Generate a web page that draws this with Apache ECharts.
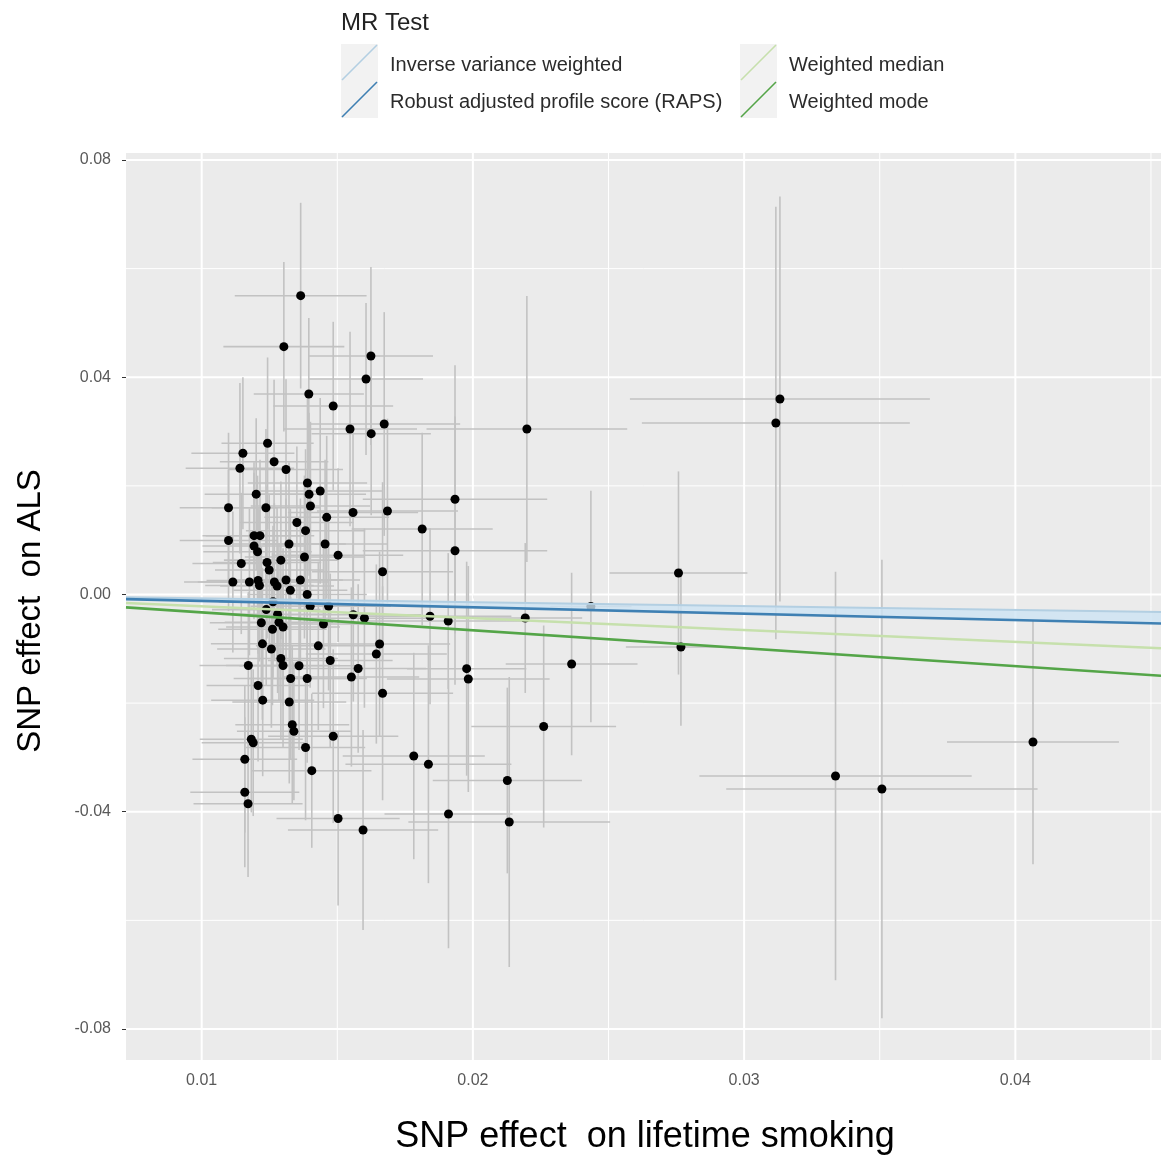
<!DOCTYPE html>
<html><head><meta charset="utf-8">
<script src="https://cdn.jsdelivr.net/npm/echarts@6/dist/echarts.min.js"></script>
<style>html,body{margin:0;padding:0;background:#fff}#c{width:1161px;height:1160px}</style>
</head><body><div id="c"></div>
<script>
const snpX = [0.01365,0.01303,0.01624,0.01606,0.01395,0.01485,0.01547,0.01673,0.01625,0.02199,
 0.03132,0.03117,0.01243,0.01152,0.01267,0.01141,0.01311,0.01390,0.01396,0.01437,
 0.01201,0.01099,0.01237,0.01401,0.01558,0.01685,0.01934,0.01461,0.01813,0.01351,
 0.01383,0.01193,0.01215,0.01099,0.01322,0.01455,0.01193,0.01206,0.01934,0.01503,
 0.01379,0.01146,0.01292,0.01241,0.01249,0.01667,0.01115,0.01176,0.01208,0.01213,
 0.01268,0.01278,0.01311,0.01327,0.01364,0.01389,0.01263,0.01238,0.01400,0.01468,
 0.01280,0.01559,0.01600,0.01842,0.01909,0.02193,0.02435,0.01220,0.01285,0.01300,
 0.01261,0.01449,0.01224,0.01257,0.01430,0.01656,0.01644,0.02758,0.02767,0.01292,
 0.01300,0.01359,0.01172,0.01474,0.01577,0.01552,0.01328,0.01389,0.01208,0.01667,
 0.01225,0.01323,0.01977,0.01983,0.02364,0.01334,0.01340,0.01183,0.01190,0.01485,
 0.01383,0.02261,0.01159,0.01406,0.01782,0.01836,0.02127,0.01159,0.01171,0.01503,
 0.01595,0.01910,0.02134,0.03337,0.03508,0.04065];
const snpY = [0.05502,0.04563,0.04391,0.03968,0.03692,0.03471,0.03047,0.03139,0.02961,0.03047,
 0.03600,0.03158,0.02784,0.02600,0.02445,0.02324,0.02302,0.02053,0.01845,0.01906,
 0.01847,0.01598,0.01598,0.01630,0.01510,0.01537,0.01753,0.01421,0.01206,0.01326,
 0.01175,0.01083,0.01083,0.00994,0.00930,0.00930,0.00893,0.00788,0.00806,0.00724,
 0.00690,0.00571,0.00632,0.00589,0.00451,0.00418,0.00230,0.00230,0.00258,0.00166,
 0.00230,0.00157,0.00267,0.00079,0.00267,0.00000,-0.00133,-0.00278,-0.00217,-0.00217,
 -0.00365,-0.00372,-0.00436,-0.00401,-0.00488,-0.00433,-0.00221,-0.00521,-0.00510,-0.00598,
 -0.00639,-0.00543,-0.00908,-0.01004,-0.00945,-0.00911,-0.01096,0.00396,-0.00967,-0.01178,
 -0.01307,-0.01311,-0.01307,-0.01215,-0.01363,-0.01519,-0.01547,-0.01547,-0.01676,-0.01819,
 -0.01946,-0.01979,-0.01366,-0.01556,-0.01280,-0.02397,-0.02519,-0.02664,-0.02729,-0.02609,
 -0.02817,-0.02431,-0.03033,-0.03244,-0.02974,-0.03125,-0.03425,-0.03642,-0.03852,-0.04125,
 -0.04336,-0.04042,-0.04189,-0.03342,-0.03581,-0.02716];
const seX = [0.00243,0.00223,0.00229,0.00210,0.00203,0.00221,0.00247,0.00280,0.00220,0.00370,
 0.00553,0.00494,0.00170,0.00190,0.00200,0.00200,0.00210,0.00220,0.00210,0.00230,
 0.00190,0.00180,0.00200,0.00220,0.00240,0.00260,0.00340,0.00230,0.00260,0.00210,
 0.00220,0.00190,0.00200,0.00180,0.00210,0.00230,0.00190,0.00200,0.00340,0.00240,
 0.00220,0.00180,0.00210,0.00200,0.00200,0.00260,0.00180,0.00190,0.00190,0.00200,
 0.00200,0.00210,0.00210,0.00210,0.00220,0.00220,0.00200,0.00200,0.00220,0.00230,
 0.00200,0.00250,0.00250,0.00300,0.00300,0.00210,0.00150,0.00190,0.00200,0.00210,
 0.00200,0.00230,0.00190,0.00200,0.00230,0.00260,0.00260,0.00254,0.00203,0.00210,
 0.00210,0.00220,0.00180,0.00230,0.00250,0.00250,0.00210,0.00220,0.00190,0.00260,
 0.00190,0.00210,0.00220,0.00300,0.00243,0.00210,0.00210,0.00190,0.00190,0.00240,
 0.00220,0.00267,0.00193,0.00220,0.00262,0.00306,0.00275,0.00201,0.00201,0.00227,
 0.00277,0.00236,0.00372,0.00502,0.00574,0.00317];
const seY = [0.0171,0.0156,0.0164,0.0140,0.0140,0.0155,0.0179,0.0206,0.0150,0.0245,
 0.0373,0.0398,0.0158,0.0140,0.0151,0.0157,0.0166,0.0160,0.0150,0.0171,
 0.0140,0.0138,0.0145,0.0155,0.0160,0.0170,0.0247,0.0150,0.0177,0.0140,
 0.0150,0.0135,0.0140,0.0130,0.0150,0.0155,0.0135,0.0140,0.0247,0.0160,
 0.0150,0.0130,0.0145,0.0140,0.0140,0.0165,0.0130,0.0135,0.0135,0.0140,
 0.0145,0.0145,0.0150,0.0150,0.0150,0.0155,0.0140,0.0140,0.0150,0.0155,
 0.0145,0.0160,0.0165,0.0162,0.0125,0.0138,0.0213,0.0140,0.0145,0.0145,
 0.0140,0.0155,0.0140,0.0145,0.0155,0.0170,0.0165,0.0187,0.0145,0.0150,
 0.0150,0.0155,0.0135,0.0160,0.0155,0.0165,0.0150,0.0155,0.0140,0.0197,
 0.0140,0.0150,0.0197,0.0208,0.0168,0.0145,0.0127,0.0135,0.0135,0.0160,
 0.0134,0.0186,0.0135,0.0142,0.0190,0.0219,0.0171,0.0138,0.0135,0.0160,
 0.0184,0.0247,0.0267,0.0376,0.0422,0.0225];

const methodNames = ['Inverse variance weighted', 'Robust adjusted profile score (RAPS)', 'Weighted median', 'Weighted mode'];
const methodSlopes = [-0.071, -0.118, -0.218, -0.330];
const methodColors = ['#b3cfe2', '#3f80b3', '#c6e0ac', '#54a548'];

const xRange = [0.00721, 0.04537];
const yRange = [-0.08571, 0.08129];
const xTicks = [0.01, 0.02, 0.03, 0.04];
const xMinorTicks = [0.015, 0.025, 0.035, 0.045];
const yTicks = [-0.08, -0.04, 0, 0.04, 0.08];
const yMinorTicks = [-0.06, -0.02, 0.02, 0.06];
const xTitle = 'SNP effect  on lifetime smoking';
const yTitle = 'SNP effect  on ALS';
const legendTitle = 'MR Test';

const FONT = '"Liberation Sans", Arial, Helvetica, sans-serif';

function vGrid(vals, w) {
  return {
    type: 'custom', silent: true, z: 1, clip: true,
    data: vals.map(v => [v, 0]),
    encode: {x: 0, y: 1},
    renderItem: (params, api) => {
      const cs = params.coordSys;
      const p = api.coord([api.value(0), 0]);
      return {type: 'line', shape: {x1: p[0], y1: cs.y, x2: p[0], y2: cs.y + cs.height},
        style: {stroke: '#ffffff', lineWidth: w}};
    }
  };
}
function hGrid(vals, w) {
  return {
    type: 'custom', silent: true, z: 1, clip: true,
    data: vals.map(v => [xRange[0], v]),
    encode: {x: 0, y: 1},
    renderItem: (params, api) => {
      const cs = params.coordSys;
      const p = api.coord([xRange[0], api.value(1)]);
      return {type: 'line', shape: {x1: cs.x, y1: p[1], x2: cs.x + cs.width, y2: p[1]},
        style: {stroke: '#ffffff', lineWidth: w}};
    }
  };
}

const errData = snpX.map((x, i) => [x, snpY[i], seX[i], seY[i]]);
const ptData = snpX.map((x, i) => [x, snpY[i]]);

const series = [
  vGrid(xMinorTicks, 1), hGrid(yMinorTicks, 1), vGrid(xTicks, 2), hGrid(yTicks, 2),
  {
    type: 'custom', silent: true, z: 2, clip: true,
    data: errData, encode: {x: 0, y: 1},
    renderItem: (params, api) => {
      const x = api.value(0), y = api.value(1), sx = api.value(2), sy = api.value(3);
      const l = api.coord([x - sx, y]), r = api.coord([x + sx, y]);
      const t = api.coord([x, y + sy]), b = api.coord([x, y - sy]);
      const st = {stroke: '#c2c2c2', lineWidth: 1.6};
      return {type: 'group', children: [
        {type: 'line', shape: {x1: l[0], y1: l[1], x2: r[0], y2: r[1]}, style: st},
        {type: 'line', shape: {x1: t[0], y1: t[1], x2: b[0], y2: b[1]}, style: st}
      ]};
    }
  },
  {
    type: 'scatter', z: 3, data: ptData, symbol: 'circle', symbolSize: 9,
    itemStyle: {color: '#000000', opacity: 1}, silent: true
  },
  {
    type: 'custom', silent: true, z: 4, clip: true,
    data: [[xRange[0], 0]], encode: {x: 0, y: 1},
    renderItem: (params, api) => {
      const a = api.coord([xRange[0], methodSlopes[0] * xRange[0]]);
      const b = api.coord([xRange[1], methodSlopes[0] * xRange[1]]);
      const c = api.coord([xRange[1], methodSlopes[1] * xRange[1]]);
      const d = api.coord([xRange[0], methodSlopes[1] * xRange[0]]);
      return {type: 'polygon', shape: {points: [a, b, c, d]}, style: {fill: 'rgba(205,228,244,0.8)'}};
    }
  }
];
methodSlopes.forEach((s, i) => {
  series.push({
    type: 'line', name: methodNames[i], z: 5 + i, silent: true, showSymbol: false, symbol: 'none',
    data: [[xRange[0], s * xRange[0]], [xRange[1], s * xRange[1]]],
    lineStyle: {color: methodColors[i], width: i === 0 ? 2 : 2.6},
    clip: true
  });
});

const legendRows = [[341, 44], [341, 81], [740, 44], [740, 81]];
const graphic = [
  {type: 'text', x: 341, y: 23, style: {text: legendTitle, font: '24px ' + FONT, fill: '#222', verticalAlign: 'middle'}}
];
methodNames.forEach((n, i) => {
  const [kx, ky] = legendRows[i];
  graphic.push({type: 'rect', shape: {x: kx, y: ky, width: 37, height: 37}, style: {fill: '#f2f2f2'}});
  graphic.push({type: 'line', shape: {x1: kx + 1, y1: ky + 36, x2: kx + 36, y2: ky + 1}, style: {stroke: methodColors[i], lineWidth: 1.6}});
  graphic.push({type: 'text', x: kx + 49, y: ky + 21, style: {text: n, font: '20px ' + FONT, fill: '#2b2b2b', verticalAlign: 'middle'}});
});
graphic.push({type: 'text', x: 645, y: 1137, style: {text: xTitle, font: '36px ' + FONT, fill: '#000', align: 'center', verticalAlign: 'middle'}});
graphic.push({type: 'text', x: 31, y: 611, rotation: Math.PI / 2, style: {text: yTitle, font: '33px ' + FONT, fill: '#000', align: 'center', verticalAlign: 'middle'}});

const chart = echarts.init(document.getElementById('c'), null, {renderer: 'canvas'});
chart.setOption({
  animation: false,
  backgroundColor: '#ffffff',
  grid: {left: 126, right: 0, top: 153, bottom: 100, show: true, backgroundColor: '#ebebeb', borderWidth: 0, containLabel: false, outerBoundsMode: 'none'},
  xAxis: {
    type: 'value', min: xRange[0], max: xRange[1],
    axisLine: {show: false},
    splitLine: {show: false},
    axisTick: {show: true, customValues: xTicks, length: 4, lineStyle: {color: '#333', width: 1}},
    axisLabel: {customValues: xTicks, formatter: v => v.toFixed(2), margin: 13, color: '#595959', fontSize: 16, fontFamily: FONT}
  },
  yAxis: {
    type: 'value', min: yRange[0], max: yRange[1],
    axisLine: {show: false},
    splitLine: {show: false},
    axisTick: {show: true, customValues: yTicks, length: 4, lineStyle: {color: '#333', width: 1}},
    axisLabel: {customValues: yTicks, formatter: v => v.toFixed(2), margin: 15, color: '#595959', fontSize: 16, fontFamily: FONT}
  },
  series: series,
  graphic: graphic
});
</script></body></html>
